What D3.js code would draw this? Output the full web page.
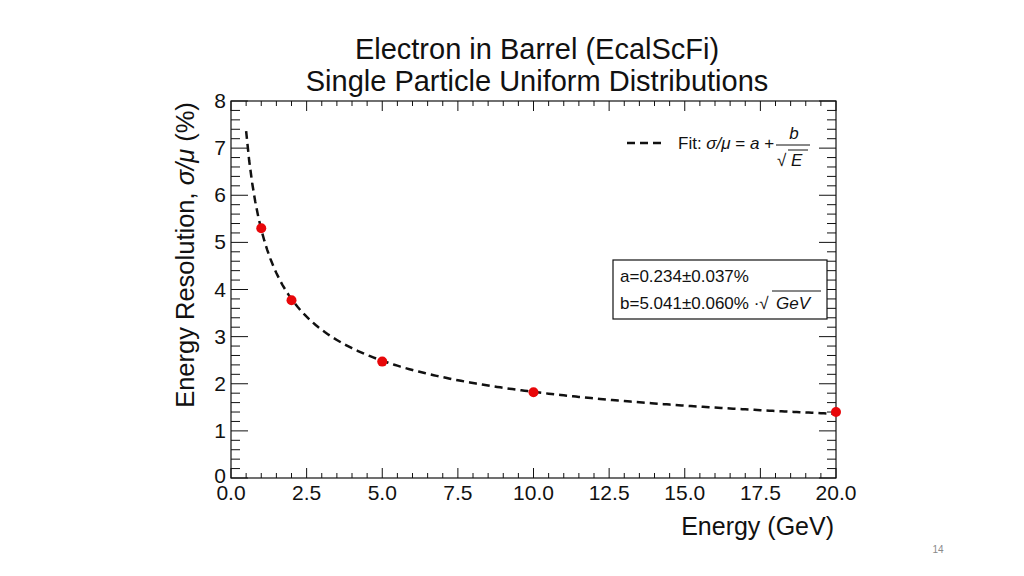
<!DOCTYPE html>
<html>
<head>
<meta charset="utf-8">
<script src="https://cdn.jsdelivr.net/npm/d3@7"></script>
<style>
  body { margin: 0; background: #fff; }
  text { font-family: "Liberation Sans", Arial, sans-serif; fill: #111; }
</style>
</head>
<body>
<div id="chart"></div>
<script>
// measured points (energy in GeV, resolution in %)
var energies = [1, 2, 5, 10, 20];
var resolutions = [5.3, 3.77, 2.47, 1.82, 1.4];
// fit parameters shown in the stat box
var fitA = 0.234, fitB = 5.041;
var fitRange = [0.5, 20];
var xTicks = [0, 2.5, 5, 7.5, 10, 12.5, 15, 17.5, 20];
var yTicks = [0, 1, 2, 3, 4, 5, 6, 7, 8];

var width = 1024, height = 576;
var frame = {left: 231, right: 836, top: 101, bottom: 478};

var svg = d3.select('#chart').append('svg')
  .attr('width', width).attr('height', height);

var x = d3.scaleLinear().domain([0, 20]).range([frame.left, frame.right]);
var y = d3.scaleLinear().domain([0, 8]).range([frame.bottom, frame.top]);

// title
svg.append('text').attr('x', 537).attr('y', 59).attr('text-anchor', 'middle')
  .style('font-size', '29px').text('Electron in Barrel (EcalScFi)');
svg.append('text').attr('x', 537).attr('y', 91).attr('text-anchor', 'middle')
  .style('font-size', '29px').text('Single Particle Uniform Distributions');

// frame
svg.append('rect').attr('x', frame.left).attr('y', frame.top)
  .attr('width', frame.right - frame.left).attr('height', frame.bottom - frame.top)
  .attr('fill', 'none').attr('stroke', '#111').attr('stroke-width', 1.2);

// ticks, ROOT style (inside, on all four sides)
var ticks = svg.append('g').attr('stroke', '#111').attr('stroke-width', 1);
var xMinor = d3.range(0, 20.01, 0.5);
xMinor.forEach(function(v) {
  var major = Math.abs(v / 2.5 - Math.round(v / 2.5)) < 1e-6;
  var len = major ? 10 : 5;
  ticks.append('line').attr('x1', x(v)).attr('x2', x(v))
    .attr('y1', frame.bottom).attr('y2', frame.bottom - len);
  ticks.append('line').attr('x1', x(v)).attr('x2', x(v))
    .attr('y1', frame.top).attr('y2', frame.top + len);
});
var yMinor = d3.range(0, 8.01, 0.2);
yMinor.forEach(function(v) {
  var major = Math.abs(v - Math.round(v)) < 1e-6;
  var len = major ? 17 : 9;
  ticks.append('line').attr('y1', y(v)).attr('y2', y(v))
    .attr('x1', frame.left).attr('x2', frame.left + len);
  ticks.append('line').attr('y1', y(v)).attr('y2', y(v))
    .attr('x1', frame.right).attr('x2', frame.right - len);
});

// tick labels
svg.append('g').selectAll('text').data(xTicks).enter().append('text')
  .attr('x', function(d) { return x(d); }).attr('y', frame.bottom + 22)
  .attr('text-anchor', 'middle').style('font-size', '21px')
  .text(function(d) { return d.toFixed(1); });
svg.append('g').selectAll('text').data(yTicks).enter().append('text')
  .attr('x', frame.left - 5).attr('y', function(d) { return y(d) + (d === 0 ? 5 : 7); })
  .attr('text-anchor', 'end').style('font-size', '21px')
  .text(function(d) { return d; });

// axis titles
svg.append('text').attr('x', frame.right - 2).attr('y', 535).attr('text-anchor', 'end')
  .style('font-size', '25px').text('Energy (GeV)');
var yl = svg.append('text').attr('transform', 'translate(194,255) rotate(-90)')
  .attr('text-anchor', 'middle').style('font-size', '25.5px');
yl.append('tspan').text('Energy Resolution, ');
yl.append('tspan').style('font-style', 'italic').text('σ/μ');
yl.append('tspan').text(' (%)');

// fit curve
var fitE = d3.range(fitRange[0], fitRange[1] + 0.001, 0.1);
var line = d3.line()
  .x(function(e) { return x(e); })
  .y(function(e) { return y(fitA + fitB / Math.sqrt(e)); });
svg.append('path').datum(fitE).attr('d', line)
  .attr('fill', 'none').attr('stroke', '#111').attr('stroke-width', 2.5)
  .attr('stroke-dasharray', '8,5');

// points
svg.append('g').selectAll('circle').data(energies).enter().append('circle')
  .attr('cx', function(d) { return x(d); })
  .attr('cy', function(d, i) { return y(resolutions[i]); })
  .attr('r', 5).attr('fill', '#e8070a');

// legend
svg.append('line').attr('x1', 627).attr('x2', 664).attr('y1', 143).attr('y2', 143)
  .attr('stroke', '#111').attr('stroke-width', 2.5).attr('stroke-dasharray', '8,5');
var lt = svg.append('text').attr('x', 678).attr('y', 149).style('font-size', '17px');
lt.append('tspan').text('Fit: ');
lt.append('tspan').style('font-style', 'italic').text('σ/μ');
lt.append('tspan').text(' = ');
lt.append('tspan').style('font-style', 'italic').text('a');
lt.append('tspan').text(' + ');
svg.append('text').attr('x', 794).attr('y', 139).attr('text-anchor', 'middle')
  .style('font-size', '17px').style('font-style', 'italic').text('b');
svg.append('line').attr('x1', 776).attr('x2', 810).attr('y1', 145).attr('y2', 145)
  .attr('stroke', '#111').attr('stroke-width', 1);
svg.append('text').attr('x', 777).attr('y', 166).style('font-size', '17px').text('√');
svg.append('line').attr('x1', 788).attr('x2', 808).attr('y1', 150).attr('y2', 150)
  .attr('stroke', '#111').attr('stroke-width', 1);
svg.append('text').attr('x', 791).attr('y', 166).style('font-size', '17px')
  .style('font-style', 'italic').text('E');

// stat box
svg.append('rect').attr('x', 613).attr('y', 260).attr('width', 214).attr('height', 59)
  .attr('fill', '#fff').attr('stroke', '#111').attr('stroke-width', 1.2);
svg.append('text').attr('x', 620).attr('y', 282).style('font-size', '17px')
  .text('a=' + fitA.toFixed(3) + '±0.037%');
svg.append('text').attr('x', 620).attr('y', 309).style('font-size', '17px')
  .text('b=' + fitB.toFixed(3) + '±0.060% ·√');
svg.append('line').attr('x1', 772).attr('x2', 821).attr('y1', 291).attr('y2', 291)
  .attr('stroke', '#111').attr('stroke-width', 1);
svg.append('text').attr('x', 776).attr('y', 309).style('font-size', '17px')
  .style('font-style', 'italic').text('GeV');

// slide number
svg.append('text').attr('x', 938).attr('y', 553).attr('text-anchor', 'middle')
  .style('font-size', '10px').style('fill', '#8a8a8a').text('14');
</script>
</body>
</html>
